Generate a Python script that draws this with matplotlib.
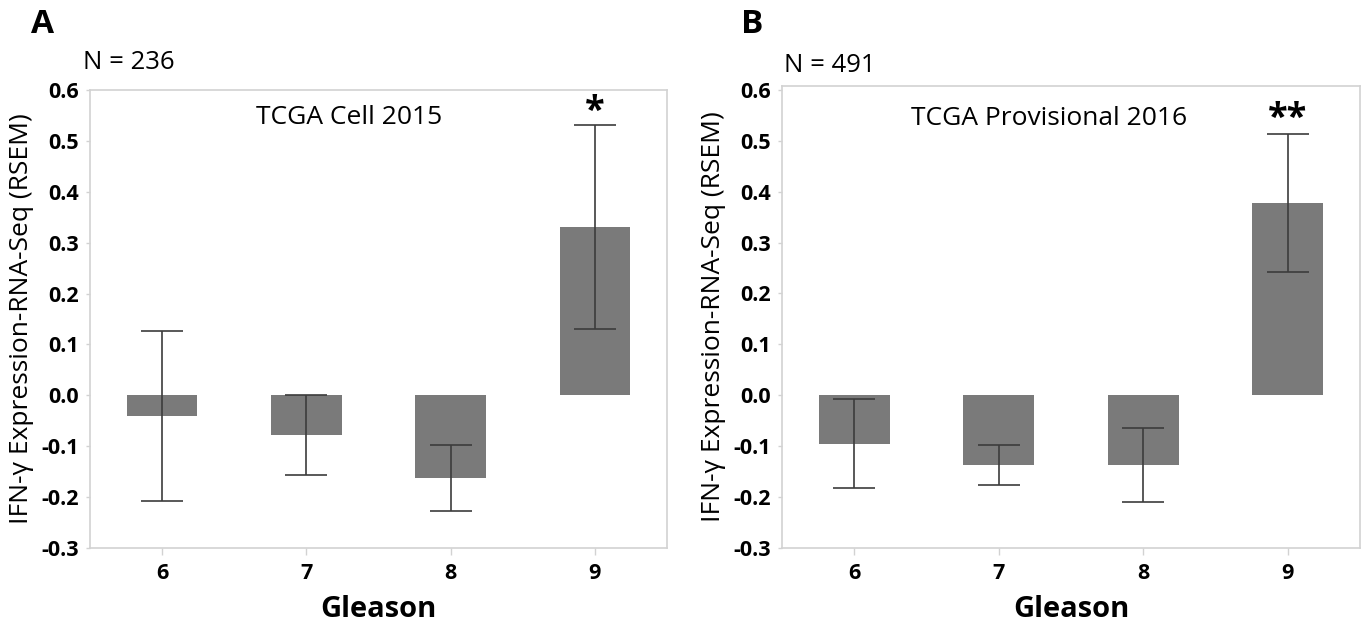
import matplotlib.pyplot as plt
import numpy as np

gleason = [6, 7, 8, 9]

# panel A: TCGA Cell 2015
mean_a = [-0.041, -0.078, -0.162, 0.331]
err_a = [0.167, 0.079, 0.065, 0.200]

# panel B: TCGA Provisional 2016
mean_b = [-0.095, -0.137, -0.137, 0.378]
err_b = [0.088, 0.039, 0.072, 0.135]

yticks = [-0.3, -0.2, -0.1, 0.0, 0.1, 0.2, 0.3, 0.4, 0.5, 0.6]

plt.rcParams['font.family'] = ['Open Sans', 'DejaVu Sans']

bar_color = '#7a7a7a'
frame_color = '#d2d2d2'

fig = plt.figure(figsize=(13.61, 6.24), dpi=100)
ax_a = fig.add_axes([0.0661, 0.1218, 0.4240, 0.734])
ax_b = fig.add_axes([0.5746, 0.1218, 0.4247, 0.740])


def draw_panel(ax, means, errs, title, n_text, star, ytop, title_y, n_x, n_y, star_off):
  ax.bar(gleason, means, width=0.49, color=bar_color, zorder=2)
  ax.errorbar(gleason, means, yerr=errs, fmt='none', ecolor='#3c3c3c',
              elinewidth=1.2, capsize=15, capthick=1.2, zorder=3)
  ax.set_xlim(5.5, 9.5)
  ax.set_ylim(-0.3, ytop)
  ax.set_xticks(gleason)
  ax.set_xticklabels([str(g) for g in gleason], fontsize=15.5, fontweight='bold')
  ax.set_yticks(yticks)
  ax.set_yticklabels(['%.1f' % t for t in yticks], fontsize=15.5, fontweight='bold')
  for s in ax.spines.values():
    s.set_color(frame_color)
    s.set_linewidth(1.2)
  ax.tick_params(axis='x', color=frame_color, length=5, width=1.0, pad=6)
  ax.tick_params(axis='y', color=frame_color, length=3, width=1.0, pad=5)
  ax.set_xlabel('Gleason', fontsize=21, fontweight='bold', labelpad=8)
  ax.set_ylabel('IFN-γ Expression-RNA-Seq (RSEM)', fontsize=19, labelpad=5)
  ax.text(title_y[0], title_y[1], title, transform=ax.transAxes, ha='center',
          va='center', fontsize=19)
  ax.text(gleason[3], means[3] + errs[3] + star_off, star, ha='center', va='center',
          fontsize=26, fontweight='bold')
  ax.text(n_x, n_y, n_text, transform=ax.transAxes, ha='left', va='center',
          fontsize=18.5)


draw_panel(ax_a, mean_a, err_a, 'TCGA Cell 2015', 'N = 236', '*', 0.6,
           (0.449, 0.941), -0.012, 1.061, 0.025)
draw_panel(ax_b, mean_b, err_b, 'TCGA Provisional 2016', 'N = 491', '**', 0.607,
           (0.462, 0.931), 0.003, 1.045, 0.03)

fig.text(0.0228, 0.96, 'A', fontsize=24, fontweight='bold', ha='left', va='center')
fig.text(0.5445, 0.96, 'B', fontsize=24, fontweight='bold', ha='left', va='center')

fig.savefig('out.png', dpi=100)
